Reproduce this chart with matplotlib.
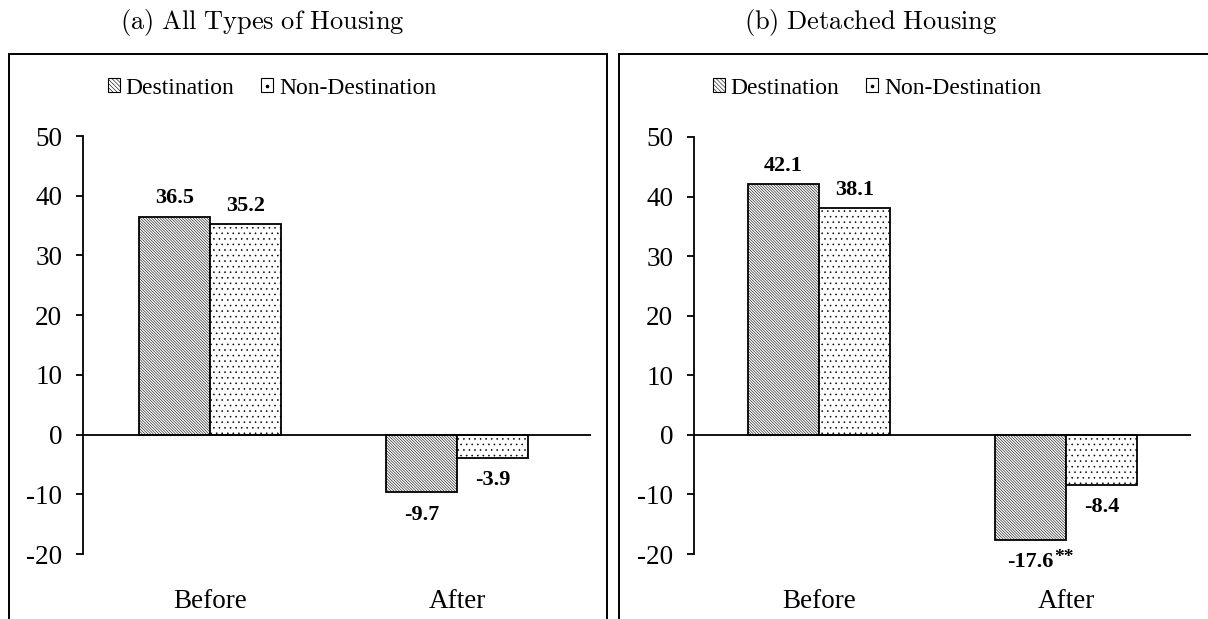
import matplotlib
matplotlib.use("Agg")
import matplotlib.pyplot as plt
from matplotlib.patches import Rectangle, Patch
from matplotlib.lines import Line2D
from matplotlib.legend_handler import HandlerTuple

# Data
periods = ["Before", "After"]
series_names = ["Destination", "Non-Destination"]
all_dest = [36.5, -9.7]
all_nondest = [35.2, -3.9]
det_dest = [42.1, -17.6]
det_nondest = [38.1, -8.4]
det_marks = ["", "**"]
panel_titles = ["(a) All Types of Housing", "(b) Detached Housing"]
yticks = [-20, -10, 0, 10, 20, 30, 40, 50]

W, H = 1208, 619
plt.rcParams["font.family"] = ["Liberation Serif", "DejaVu Serif"]
plt.rcParams["hatch.linewidth"] = 0.4
plt.rcParams["axes.unicode_minus"] = False

fig = plt.figure(figsize=(W / 100, H / 100), dpi=100)


def px_box(x0, y_top, x1, y_bot):
    return [x0 / W, 1 - y_bot / H, (x1 - x0) / W, (y_bot - y_top) / H]


hatches = ["\\" * 12, "..."]
bar_w = 0.287


def draw_panel(rect, xlim, dest, nondest, marks, title, title_x, frame_x, legend_x):
    # outer frame
    fx0, fx1 = frame_x
    fig.patches.append(Rectangle((fx0 / W, -0.05), (fx1 - fx0) / W, 1.05 - 54 / H,
                                 transform=fig.transFigure, fill=False,
                                 edgecolor="black", linewidth=1.4))
    fig.text(title_x / W, 1 - 22 / H, r"$\mathrm{" + title.replace(" ", r"\ ") + "}$",
             ha="center", va="center", fontsize=19, math_fontfamily="cm")

    ax = fig.add_axes(rect)
    x = list(range(len(periods)))
    ax.bar(x, dest, width=-bar_w, align="edge", facecolor="white",
           edgecolor="black", linewidth=1.3, hatch=hatches[0], zorder=2)
    ax.bar(x, nondest, width=bar_w, align="edge", facecolor="white",
           edgecolor="black", linewidth=1.3, hatch=hatches[1], zorder=2)
    ax.axhline(0, color="black", linewidth=1.3, zorder=3)

    for series, sign in ((dest, -1), (nondest, 1)):
        for i, v in enumerate(series):
            cx = i + sign * bar_w / 2
            if v >= 0:
                ax.annotate(f"{v:.1f}", (cx, v), xytext=(0, 6), textcoords="offset points",
                            ha="center", va="bottom", fontsize=16, fontweight="bold")
            else:
                ax.annotate(f"{v:.1f}", (cx, v), xytext=(0, -9), textcoords="offset points",
                            ha="center", va="top", fontsize=16, fontweight="bold")
                if sign < 0 and marks[i]:
                    ax.annotate(marks[i], (cx, v), xytext=(17, -7), textcoords="offset points",
                                ha="left", va="top", fontsize=14, fontweight="bold")

    ax.set_xlim(*xlim)
    ax.set_ylim(-20, 50)
    ax.set_yticks(yticks)
    ax.set_xticks(x)
    ax.set_xticklabels(periods, fontsize=19.5)
    ax.tick_params(axis="x", length=0, pad=25)
    ax.tick_params(axis="y", direction="out", length=5, width=1.3, pad=10, labelsize=19.5)
    for s in ("top", "right", "bottom"):
        ax.spines[s].set_visible(False)
    ax.spines["left"].set_linewidth(1.3)
    ax.patch.set_alpha(0)

    dest_handle = Patch(facecolor="white", edgecolor="black", linewidth=0.8, hatch="\\" * 8)
    nondest_handle = (Patch(facecolor="white", edgecolor="black", linewidth=0.8),
                      Line2D([], [], linestyle="", marker="o", markersize=1.6,
                             color="black"))
    fig.legend([dest_handle, nondest_handle], series_names, loc="center", ncol=2,
               bbox_to_anchor=(legend_x / W, 1 - 88 / H), frameon=False,
               fontsize=17, handlelength=0.5, handleheight=0.5,
               handletextpad=0.25, columnspacing=1.15, borderpad=0,
               handler_map={tuple: HandlerTuple(ndivide=1, pad=0)})
    return ax


draw_panel(px_box(83, 136, 591, 554), (-0.514, 1.543), all_dest, all_nondest,
           ["", ""], panel_titles[0], 262, (9, 607), 272)
draw_panel(px_box(694, 137, 1191, 554), (-0.506, 1.506), det_dest, det_nondest,
           det_marks, panel_titles[1], 871, (619, 1215), 877)

fig.savefig("out.png", dpi=100)
